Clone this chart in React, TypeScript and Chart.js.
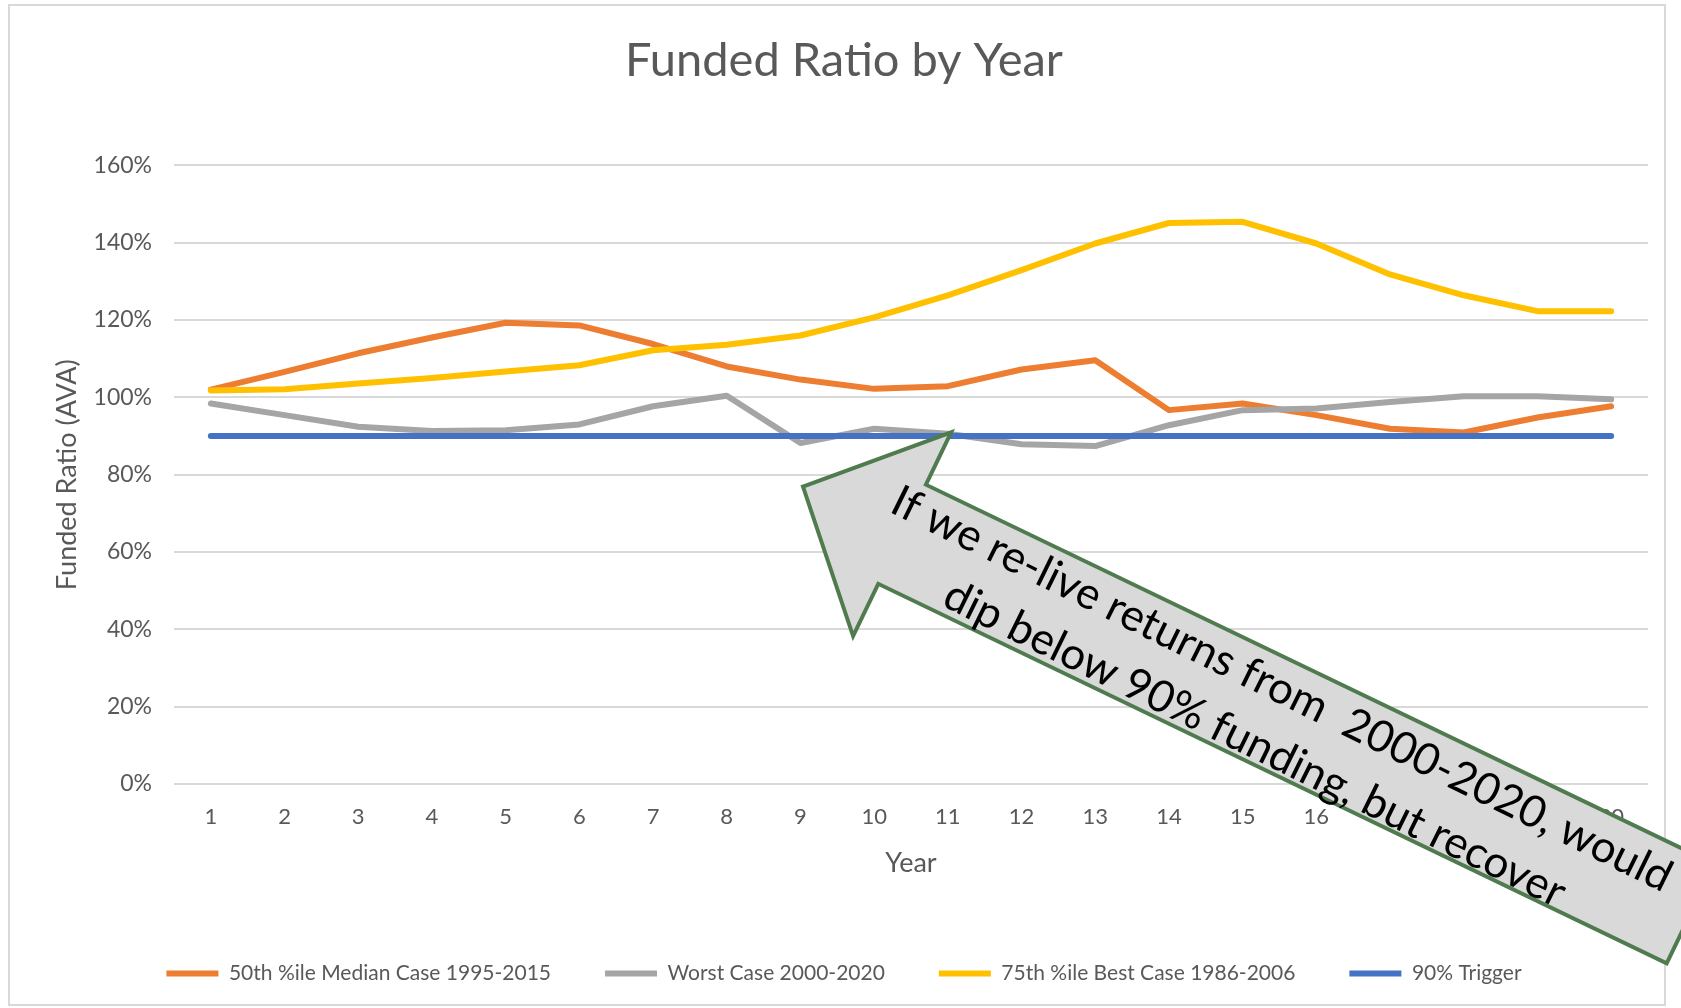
import React, { useEffect, useRef } from 'react';
import { Chart, registerables } from 'chart.js';

Chart.register(...registerables);

const years = ['1', '2', '3', '4', '5', '6', '7', '8', '9', '10', '11', '12', '13', '14', '15', '16', '17', '18', '19', '20'];
const median50 = [1.020, 1.066, 1.114, 1.155, 1.193, 1.186, 1.138, 1.080, 1.046, 1.022, 1.029, 1.072, 1.096, 0.967, 0.984, 0.954, 0.919, 0.909, 0.948, 0.977];
const worstCase = [0.984, 0.954, 0.924, 0.913, 0.915, 0.930, 0.977, 1.004, 0.882, 0.919, 0.906, 0.879, 0.874, 0.928, 0.967, 0.971, 0.988, 1.003, 1.003, 0.995];
const best75 = [1.018, 1.021, 1.036, 1.050, 1.067, 1.083, 1.122, 1.136, 1.160, 1.207, 1.264, 1.329, 1.398, 1.451, 1.454, 1.398, 1.318, 1.264, 1.223, 1.223];
const trigger90 = [0.9, 0.9, 0.9, 0.9, 0.9, 0.9, 0.9, 0.9, 0.9, 0.9, 0.9, 0.9, 0.9, 0.9, 0.9, 0.9, 0.9, 0.9, 0.9, 0.9];
const seriesNames = ['50th %ile Median Case 1995-2015', 'Worst Case 2000-2020', '75th %ile Best Case 1986-2006', '90% Trigger'];
const seriesColors = ['#ED7D31', '#A5A5A5', '#FFC000', '#4472C4'];
const chartTitle = 'Funded Ratio by Year';
const yAxisTitle = 'Funded Ratio (AVA)';
const xAxisTitle = 'Year';
const calloutLines = ['If we re-live returns from  2000-2020, would', 'dip below 90% funding, but recover'];
const calloutAnchorIndex = 10; // year 11
const calloutAnchorValue = 0.9;

const W = 1681;
const H = 1008;
const FONT = 'Lato';
const TEXT = '#595959';
const LEGEND_PAD = 54;
const LEGEND_FONT = 21;
const PAD_BOTTOM = 14;
const PLOT_BOTTOM = 784;

const framePlugin = {
  id: 'frame',
  beforeDraw(chart: any) {
    const { ctx } = chart;
    ctx.save();
    ctx.fillStyle = '#ffffff';
    ctx.fillRect(0, 0, W, H);
    ctx.strokeStyle = '#D9D9D9';
    ctx.lineWidth = 2;
    ctx.strokeRect(9, 5, 1656, 1000);
    ctx.restore();
  },
};

const calloutPlugin = {
  id: 'callout',
  afterDraw(chart: any) {
    const { ctx } = chart;
    const xs = chart.scales.x;
    const ys = chart.scales.y;
    const ax = xs.getPixelForValue(calloutAnchorIndex);
    const ay = ys.getPixelForValue(calloutAnchorValue);
    const ang = (25.7 * Math.PI) / 180;
    const u = [Math.cos(ang), Math.sin(ang)];
    const n = [-Math.sin(ang), Math.cos(ang)];
    const base = [ax - 45.75, ay + 98.2];
    const pt = (a: number, b: number) => [base[0] + a * u[0] + b * n[0], base[1] + a * u[1] + b * n[1]];
    const headLen = 110;
    const headHalf = 113;
    const shaftHalf = 55;
    const shaftLen = 875;
    const poly = [
      pt(-headLen, 0),
      pt(0, -headHalf),
      pt(0, -shaftHalf),
      pt(shaftLen, -shaftHalf),
      pt(shaftLen, shaftHalf),
      pt(0, shaftHalf),
      pt(0, headHalf),
    ];
    ctx.save();
    ctx.beginPath();
    poly.forEach((p, i) => (i === 0 ? ctx.moveTo(p[0], p[1]) : ctx.lineTo(p[0], p[1])));
    ctx.closePath();
    ctx.fillStyle = '#D9D9D9';
    ctx.fill();
    ctx.lineWidth = 4;
    ctx.lineJoin = 'miter';
    ctx.strokeStyle = '#4F7B4F';
    ctx.stroke();

    const c = pt(409, 5);
    ctx.translate(c[0], c[1]);
    ctx.rotate((26.2 * Math.PI) / 180);
    ctx.fillStyle = '#000000';
    ctx.font = `44px ${FONT}`;
    ctx.textAlign = 'center';
    ctx.textBaseline = 'middle';
    ctx.fillText(calloutLines[0], 0, -30);
    ctx.fillText(calloutLines[1], 0, 31);
    ctx.restore();
  },
};

export default function App() {
  const ref = useRef<HTMLCanvasElement | null>(null);

  useEffect(() => {
    if (!ref.current) return;
    const values = [median50, worstCase, best75, trigger90];
    const legendHeight = LEGEND_FONT + LEGEND_PAD + 10;
    const legendTop = H - PAD_BOTTOM - legendHeight;
    const xAxisHeight = legendTop - PLOT_BOTTOM;

    const chart = new Chart(ref.current, {
      type: 'line',
      data: {
        labels: years,
        datasets: values.map((v, i) => ({
          label: seriesNames[i],
          data: v,
          borderColor: seriesColors[i],
          backgroundColor: seriesColors[i],
          borderWidth: 6,
          pointRadius: 0,
          pointHoverRadius: 0,
          tension: 0,
          borderCapStyle: 'round' as const,
          borderJoinStyle: 'round' as const,
          fill: false,
          order: 4 - i,
        })),
      },
      options: {
        responsive: false,
        animation: false,
        devicePixelRatio: 1,
        events: [],
        layout: { padding: { left: 40, right: 33, top: 0, bottom: PAD_BOTTOM } },
        plugins: {
          tooltip: { enabled: false },
          title: {
            display: true,
            text: chartTitle,
            color: TEXT,
            font: { family: FONT, size: 47, weight: 'normal' },
            padding: { top: 33, bottom: 76 },
          },
          legend: {
            position: 'bottom',
            labels: {
              usePointStyle: true,
              pointStyle: 'line',
              pointStyleWidth: 52,
              padding: LEGEND_PAD,
              color: TEXT,
              font: { family: FONT, size: LEGEND_FONT },
              sort: (a: any, b: any) => a.datasetIndex - b.datasetIndex,
            },
          },
        },
        scales: {
          x: {
            type: 'category',
            offset: true,
            grid: { display: false, drawTicks: false },
            border: { display: false },
            ticks: {
              color: TEXT,
              font: { family: FONT, size: 22 },
              padding: 20,
              maxRotation: 0,
              autoSkip: false,
            },
            title: {
              display: true,
              text: xAxisTitle,
              color: TEXT,
              font: { family: FONT, size: 27 },
              padding: { top: 0, bottom: 30 },
            },
            afterFit: (scale: any) => {
              scale.height = xAxisHeight;
            },
          },
          y: {
            min: 0,
            max: 1.6,
            grid: { color: '#D9D9D9', lineWidth: 2, drawTicks: false },
            border: { display: false },
            ticks: {
              stepSize: 0.2,
              color: TEXT,
              font: { family: FONT, size: 23 },
              padding: 22,
              callback: (v: any) => `${Math.round(Number(v) * 100)}%`,
            },
            title: {
              display: true,
              text: yAxisTitle,
              color: TEXT,
              font: { family: FONT, size: 27 },
              padding: { top: 11, bottom: 0 },
            },
            afterFit: (scale: any) => {
              scale.width = 134;
            },
          },
        },
      },
      plugins: [framePlugin, calloutPlugin],
    });
    return () => chart.destroy();
  }, []);

  return (
    <div style={{ position: 'absolute', left: 0, top: 0, width: W, height: H, background: '#ffffff' }}>
      <canvas ref={ref} width={W} height={H} style={{ display: 'block', width: W, height: H }} />
    </div>
  );
}
